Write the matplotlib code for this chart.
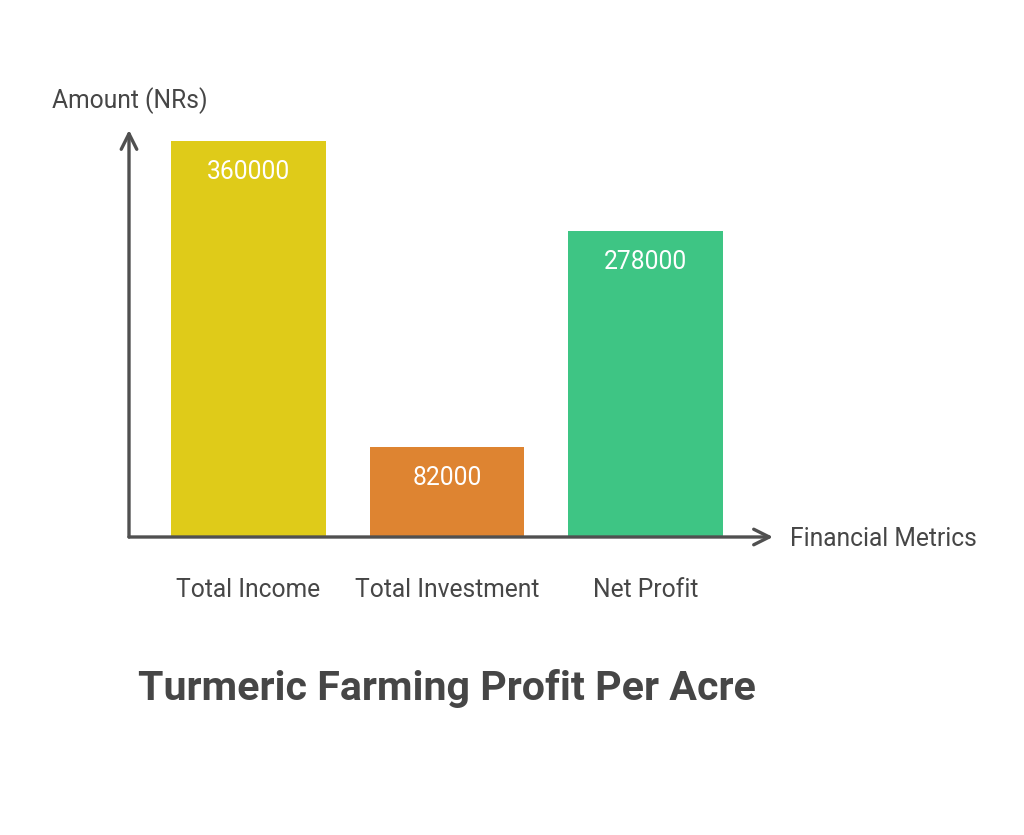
import matplotlib.pyplot as plt

plt.rcParams['font.family'] = ['Roboto', 'DejaVu Sans']

categories = ['Total Income', 'Total Investment', 'Net Profit']
amounts = [360000, 82000, 278000]
colors = ['#DFCB19', '#DE8431', '#3EC584']

W, H = 1024, 835
fig = plt.figure(figsize=(W / 100, H / 100), dpi=100)

# axes box: left at the y-axis line, bottom at the x-axis line
left, bottom, right, top = 129, 537, 773, 130
ax = fig.add_axes([left / W, 1 - bottom / H, (right - left) / W, (bottom - top) / H])

x = range(len(categories))
ax.bar(x, amounts, width=0.78, color=colors)
for xi, v in zip(x, amounts):
    ax.text(xi, v - 28000, str(v), ha='center', va='center', color='white', fontsize=17.7)

ax.set_xlim(-0.602, 2.642)
ax.set_ylim(0, 370000)
ax.set_xticks([])
ax.set_yticks([])
for s in ax.spines.values():
    s.set_visible(False)

axis_col = '#505050'
arrow = dict(arrowstyle='->', color=axis_col, lw=2.4, mutation_scale=28, shrinkA=0, shrinkB=0)
ax.annotate('', xy=(0, 1), xytext=(0, 0), xycoords='axes fraction', arrowprops=arrow, annotation_clip=False)
ax.annotate('', xy=(1, 0), xytext=(0, 0), xycoords='axes fraction', arrowprops=arrow, annotation_clip=False)

txt = '#464646'
for xi, c in zip(x, categories):
    ax.text(xi, -53 / 1.1 * 1000, c, ha='center', va='center', fontsize=17.7, color=txt)

fig.text(52 / W, 1 - 101 / H, 'Amount (NRs)', ha='left', va='center', fontsize=17.7, color=txt)
fig.text(790 / W, 1 - 539 / H, 'Financial Metrics', ha='left', va='center', fontsize=17.7, color=txt)
fig.text(447 / W, 1 - 688 / H, 'Turmeric Farming Profit Per Acre', ha='center', va='center',
         fontsize=29.6, fontweight='bold', color=txt)

fig.savefig('out.png', dpi=100, facecolor='white')
